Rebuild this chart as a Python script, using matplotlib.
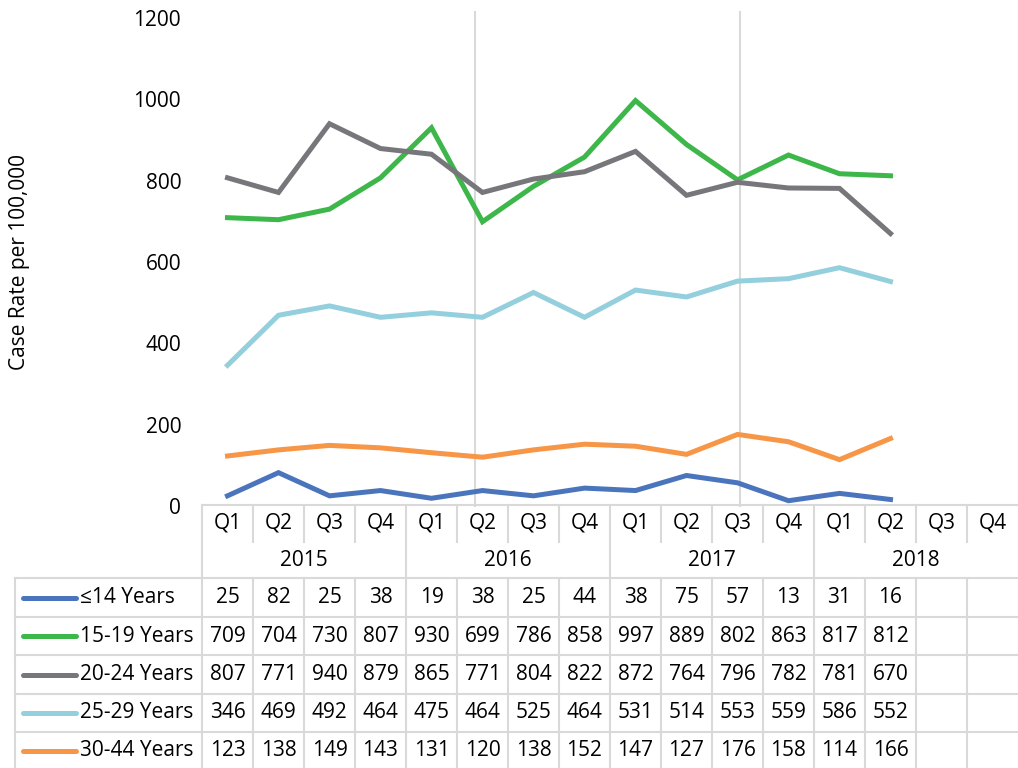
import matplotlib
matplotlib.use("Agg")
import matplotlib.pyplot as plt
from matplotlib.transforms import blended_transform_factory

plt.rcParams['font.family'] = ['Open Sans', 'DejaVu Sans']

quarters = ["Q1", "Q2", "Q3", "Q4"] * 4
years = ["2015", "2016", "2017", "2018"]
series_names = ["≤14 Years", "15-19 Years", "20-24 Years", "25-29 Years", "30-44 Years"]
s_le14 = [25, 82, 25, 38, 19, 38, 25, 44, 38, 75, 57, 13, 31, 16]
s_15_19 = [709, 704, 730, 807, 930, 699, 786, 858, 997, 889, 802, 863, 817, 812]
s_20_24 = [807, 771, 940, 879, 865, 771, 804, 822, 872, 764, 796, 782, 781, 670]
s_25_29 = [346, 469, 492, 464, 475, 464, 525, 464, 531, 514, 553, 559, 586, 552]
s_30_44 = [123, 138, 149, 143, 131, 120, 138, 152, 147, 127, 176, 158, 114, 166]
series = [s_le14, s_15_19, s_20_24, s_25_29, s_30_44]
colors = ["#4a75bd", "#3db64a", "#77777b", "#93cfdc", "#f79646"]
marker_lines = [4.86, 10.05]
yticks = [0, 200, 400, 600, 800, 1000, 1200]

FS = 15
W, H = 1018, 768
fig = plt.figure(figsize=(W / 100, H / 100), dpi=100)
ax_l, ax_r, ax_t, ax_b = 202, 1018, 18, 506
ax = fig.add_axes([ax_l / W, 1 - ax_b / H, (ax_r - ax_l) / W, (ax_b - ax_t) / H])
n = len(quarters)
ax.set_xlim(-0.5, n - 0.5)
ax.set_ylim(0, 1200)
for s in ax.spines.values():
    s.set_visible(False)
ax.set_xticks([])
ax.set_yticks(yticks)
ax.set_yticklabels([str(v) for v in yticks], fontsize=FS, color="#000000")
ax.tick_params(axis='y', length=0, pad=15)

gcol = "#d9d9d9"
for xm in marker_lines:
    ax.plot([xm, xm], [0, 1215], color=gcol, lw=1.5, clip_on=False, zorder=1)

for vals, c in zip(series, colors):
    ax.plot(range(len(vals)), vals, color=c, lw=3.6, solid_joinstyle='miter', zorder=3)

fig.text(20 / W, 1 - 262 / H, "Case Rate per 100,000", rotation=90,
         ha='center', va='center', fontsize=FS)

# table
trans = blended_transform_factory(ax.transData, fig.transFigure)
def fy(py):
    return 1 - py / H
def fx(px):
    return px / W

lw = 1.5
x0 = -0.5
x1 = n - 0.5
ax.plot([x0, x1], [fy(505), fy(505)], transform=trans, color=gcol, lw=lw, clip_on=False)
for i, q in enumerate(quarters):
    ax.text(i, fy(523), q, transform=trans, ha='center', va='center', fontsize=FS)
    if i > 0 and i % 4 != 0:
        ax.plot([i - 0.5, i - 0.5], [fy(505), fy(542)], transform=trans, color=gcol, lw=lw, clip_on=False)
for k, y in enumerate(years):
    ax.text(4 * k + 1.5, fy(560), y, transform=trans, ha='center', va='center', fontsize=FS)
for k in range(4):
    xb = 4 * k - 0.5
    ax.plot([xb, xb], [fy(505), fy(578)], transform=trans, color=gcol, lw=lw, clip_on=False)

row_lines = [578, 617, 655, 694, 732, 770]
fig.add_artist(plt.Line2D([fx(15), fx(15)], [fy(578), fy(770)], color=gcol, lw=lw))
for py in row_lines[:-1]:
    fig.add_artist(plt.Line2D([fx(15), fx(W)], [fy(py), fy(py)], color=gcol, lw=lw))
for i in range(n):
    ax.plot([i - 0.5, i - 0.5], [fy(578), fy(770)], transform=trans, color=gcol, lw=lw, clip_on=False)

for r, (name, vals, c) in enumerate(zip(series_names, series, colors)):
    yc = (row_lines[r] + row_lines[r + 1]) / 2
    fig.add_artist(plt.Line2D([fx(23), fx(76)], [fy(yc), fy(yc)], color=c, lw=3.6,
                              solid_capstyle='round'))
    fig.text(fx(80), fy(yc), name, ha='left', va='center', fontsize=FS)
    for i, v in enumerate(vals):
        ax.text(i, fy(yc), str(v), transform=trans, ha='center', va='center', fontsize=FS)

fig.savefig("out.png", dpi=100)
